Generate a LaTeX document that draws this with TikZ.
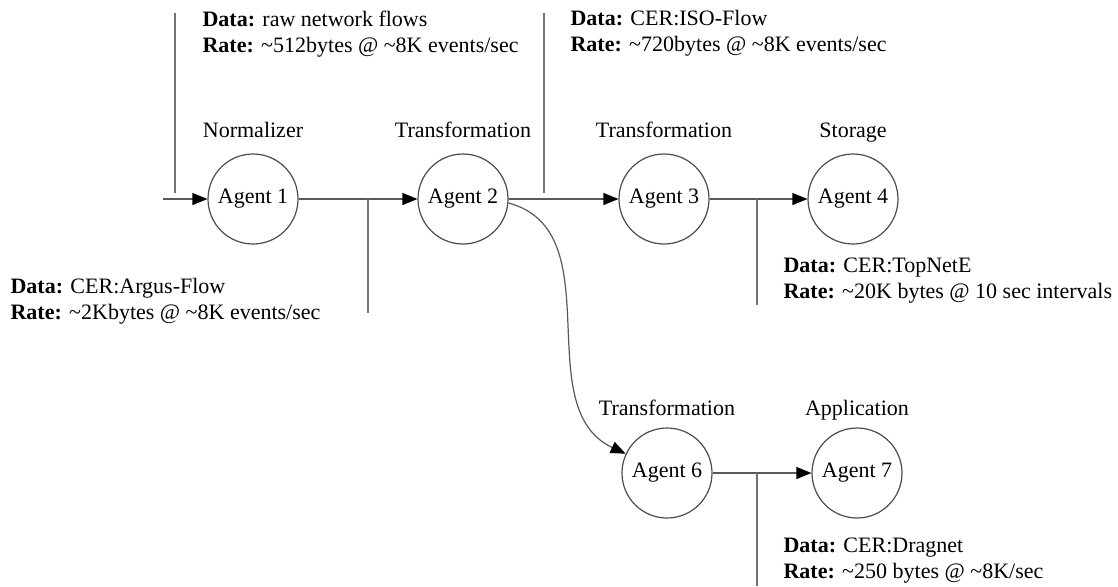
\documentclass[tikz,border=0pt]{standalone}
\usepackage{fontspec}
\setmainfont{Liberation Serif}
\usetikzlibrary{arrows.meta}
\newcommand{\tl}{\textasciitilde}
\tikzset{
  agent/.style={circle, draw=black!70, minimum size=45pt, inner sep=0pt},
  role/.style={anchor=base},
  info/.style={anchor=north west, inner sep=0pt, align=left},
  flow/.style={draw=black!65, -{Triangle[length=7.5pt,width=6pt,fill=black,color=black]}},
  tap/.style={draw=black!55}
}

\begin{document}
\begin{tikzpicture}[x=0.5pt, y=-0.5pt, line width=0.6pt, font=\fontsize{11}{13}\selectfont]
	\useasboundingbox (0,0) rectangle (1118,586);
	%\draw[step=50, black!20] (0,0) grid (1118,586);
	% agents
	\node[agent] (a1) at (253,199) {Agent 1};
	\node[agent] (a2) at (463,199) {Agent 2};
	\node[agent] (a3) at (664,199) {Agent 3};
	\node[agent] (a4) at (853,199) {Agent 4};
	\node[agent] (a6) at (667,473) {Agent 6};
	\node[agent] (a7) at (857,473) {Agent 7};
	% roles
	\node[role] (r1) at (253,137) {Normalizer};
	\node[role] (r2) at (463,137) {Transformation};
	\node[role] (r3) at (664,137) {Transformation};
	\node[role] (r4) at (853,137) {Storage};
	\node[role] (r6) at (667,415) {Transformation};
	\node[role] (r7) at (857,415) {Application};
	% flows
	\coordinate (in) at (163,199);
	\draw[flow] (in) -- (a1);
	\draw[flow] (a1) -- (a2);
	\draw[flow] (a2) -- (a3);
	\draw[flow] (a3) -- (a4);
	\draw[flow] (a6) -- (a7);
	\draw[flow] (a2.-5) to[out=-15, in=155] (a6);
	% taps
	\coordinate (t1a) at (175,13);  \coordinate (t1b) at (175,193);
	\coordinate (t2a) at (368,199); \coordinate (t2b) at (368,313);
	\coordinate (t3a) at (544,13);  \coordinate (t3b) at (544,193);
	\coordinate (t4a) at (757,199); \coordinate (t4b) at (757,305);
	\coordinate (t5a) at (757,473); \coordinate (t5b) at (757,586);
	\draw[tap] (t1a) -- (t1b);
	\draw[tap] (t2a) -- (t2b);
	\draw[tap] (t3a) -- (t3b);
	\draw[tap] (t4a) -- (t4b);
	\draw[tap] (t5a) -- (t5b);
	% data
	\node[info] (d1) at (202,10) {\textbf{Data:} raw network flows\\\textbf{Rate:} \tl512bytes @ \tl8K events/sec};
	\node[info] (d2) at (10,278) {\textbf{Data:} CER:Argus-Flow\\\textbf{Rate:} \tl2Kbytes @ \tl8K events/sec};
	\node[info] (d3) at (570,10) {\textbf{Data:} CER:ISO-Flow\\\textbf{Rate:} \tl720bytes @ \tl8K events/sec};
	\node[info] (d4) at (783,257) {\textbf{Data:} CER:TopNetE\\\textbf{Rate:} \tl20K bytes @ 10 sec intervals};
	\node[info] (d6) at (783,537) {\textbf{Data:} CER:Dragnet\\\textbf{Rate:} \tl250 bytes @ \tl8K/sec};
\end{tikzpicture}
\end{document}
